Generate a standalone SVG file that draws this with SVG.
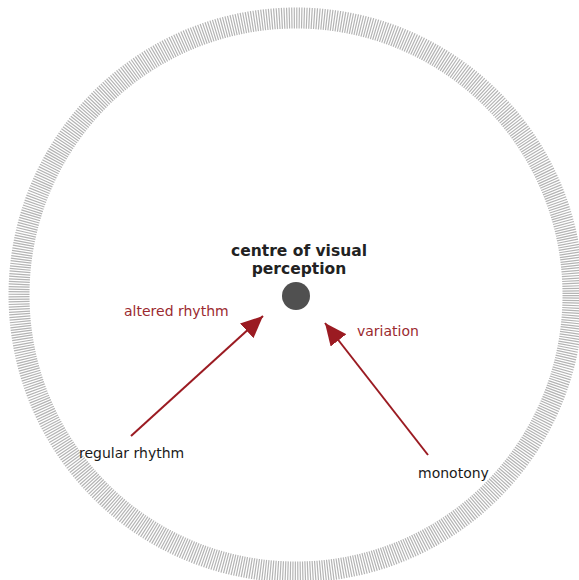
<svg xmlns="http://www.w3.org/2000/svg" width="579" height="580" viewBox="0 0 579 580">
<style>
.lbl{font-family:"DejaVu Sans",Verdana,sans-serif;font-size:14px}
.red{fill:#9b2a30}
.blk{fill:#1a1a1a}
.title{font-family:"DejaVu Sans",Verdana,sans-serif;font-size:15.5px;font-weight:bold;fill:#222}
.arrow{stroke:#9b1b22;stroke-width:2;fill:none}
</style>
<defs>
<marker id="ahb" viewBox="0 0 22 20" refX="22" refY="10" markerWidth="22" markerHeight="20" markerUnits="userSpaceOnUse" orient="auto">
<path d="M0,0 L22,10 L0,20 Z" fill="#9b1b22"/>
</marker>
</defs>
<g id="ring">
<circle cx="296" cy="295" r="277" fill="none" stroke="#b4b4b4" stroke-width="21" stroke-dasharray="1.2 1.3"/>
</g>
<g id="centre">
<circle cx="296" cy="296" r="14" fill="#505050"/>
<text class="title" x="299" y="256" text-anchor="middle">centre of visual</text>
<text class="title" x="299" y="274" text-anchor="middle">perception</text>
</g>
<g id="regular-rhythm">
<text class="lbl blk" x="79" y="458">regular rhythm</text>
</g>
<g id="monotony">
<text class="lbl blk" x="418" y="478">monotony</text>
</g>
<g id="altered-rhythm">
<text class="lbl red" x="124" y="316">altered rhythm</text>
</g>
<g id="variation">
<text class="lbl red" x="357" y="336">variation</text>
</g>
<g id="connectors">
<line class="arrow" x1="131" y1="436" x2="263" y2="316" marker-end="url(#ahb)"/>
<line class="arrow" x1="428" y1="455" x2="325" y2="323" marker-end="url(#ahb)"/>
</g>
</svg>
